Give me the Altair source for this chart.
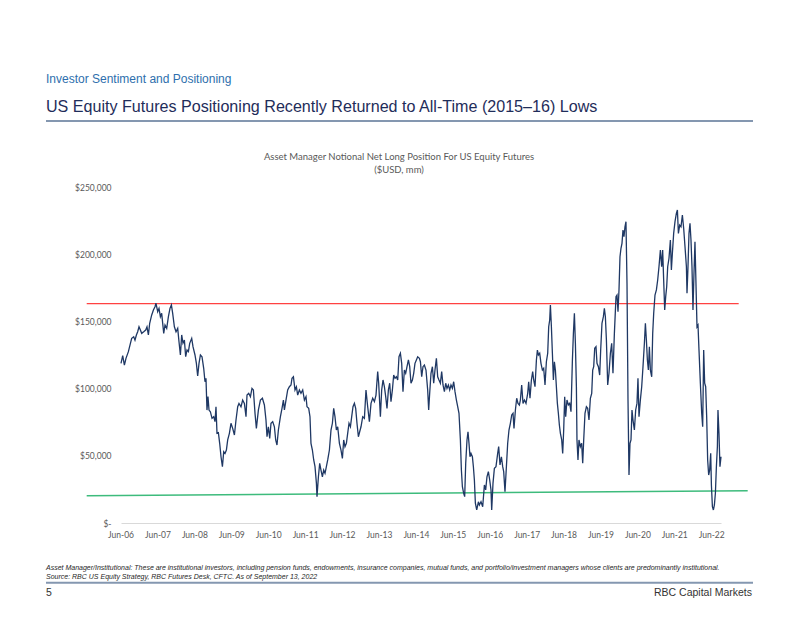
import altair as alt
import numpy as np
import pandas as pd

# ---------------- data ----------------
# decimal years of each traced point, and net long position in $USD thousands of mm
dec_years = [
    2006.446, 2006.492, 2006.538, 2006.581, 2006.646, 2006.701, 2006.736, 2006.790, 2006.825, 2006.863,
    2006.898, 2006.934, 2006.971, 2007.007, 2007.061, 2007.115, 2007.150, 2007.188, 2007.223, 2007.278,
    2007.324, 2007.367, 2007.394, 2007.440, 2007.475, 2007.513, 2007.548, 2007.603, 2007.638, 2007.684,
    2007.730, 2007.773, 2007.811, 2007.846, 2007.892, 2007.936, 2007.982, 2008.017, 2008.055, 2008.090,
    2008.125, 2008.163, 2008.198, 2008.234, 2008.272, 2008.307, 2008.361, 2008.396, 2008.450, 2008.488,
    2008.523, 2008.559, 2008.597, 2008.640, 2008.686, 2008.721, 2008.748, 2008.775, 2008.802, 2008.830,
    2008.867, 2008.911, 2008.957, 2008.992, 2009.019, 2009.046, 2009.084, 2009.119, 2009.155, 2009.193,
    2009.228, 2009.263, 2009.301, 2009.336, 2009.382, 2009.425, 2009.471, 2009.518, 2009.561, 2009.607,
    2009.642, 2009.696, 2009.742, 2009.788, 2009.832, 2009.859, 2009.905, 2009.951, 2009.994, 2010.032,
    2010.076, 2010.113, 2010.168, 2010.222, 2010.276, 2010.330, 2010.373, 2010.401, 2010.438, 2010.474,
    2010.509, 2010.555, 2010.601, 2010.636, 2010.671, 2010.709, 2010.764, 2010.807, 2010.845, 2010.872,
    2010.915, 2010.961, 2011.007, 2011.051, 2011.078, 2011.116, 2011.159, 2011.197, 2011.232, 2011.278,
    2011.321, 2011.368, 2011.414, 2011.457, 2011.484, 2011.530, 2011.565, 2011.592, 2011.630, 2011.666,
    2011.701, 2011.739, 2011.755, 2011.793, 2011.828, 2011.863, 2011.901, 2011.936, 2011.972, 2012.009,
    2012.045, 2012.091, 2012.134, 2012.172, 2012.207, 2012.242, 2012.280, 2012.316, 2012.362, 2012.405,
    2012.443, 2012.478, 2012.513, 2012.551, 2012.586, 2012.622, 2012.660, 2012.695, 2012.730, 2012.768,
    2012.803, 2012.838, 2012.876, 2012.911, 2012.947, 2012.993, 2013.039, 2013.082, 2013.128, 2013.174,
    2013.218, 2013.264, 2013.310, 2013.353, 2013.399, 2013.426, 2013.472, 2013.507, 2013.543, 2013.580,
    2013.616, 2013.651, 2013.689, 2013.724, 2013.759, 2013.797, 2013.832, 2013.868, 2013.905, 2013.941,
    2013.976, 2014.014, 2014.049, 2014.084, 2014.122, 2014.157, 2014.193, 2014.231, 2014.266, 2014.301,
    2014.339, 2014.374, 2014.409, 2014.447, 2014.482, 2014.529, 2014.556, 2014.591, 2014.626, 2014.664,
    2014.707, 2014.753, 2014.780, 2014.807, 2014.843, 2014.881, 2014.916, 2014.951, 2014.989, 2015.024,
    2015.059, 2015.097, 2015.132, 2015.168, 2015.206, 2015.241, 2015.276, 2015.314, 2015.349, 2015.384,
    2015.422, 2015.457, 2015.493, 2015.531, 2015.566, 2015.601, 2015.639, 2015.666, 2015.693, 2015.728,
    2015.755, 2015.783, 2015.818, 2015.845, 2015.872, 2015.899, 2015.926, 2015.964, 2015.991, 2016.018,
    2016.045, 2016.081, 2016.127, 2016.154, 2016.197, 2016.243, 2016.289, 2016.324, 2016.359, 2016.397,
    2016.433, 2016.468, 2016.487, 2016.522, 2016.560, 2016.603, 2016.649, 2016.676, 2016.712, 2016.750,
    2016.785, 2016.812, 2016.847, 2016.885, 2016.920, 2016.955, 2016.993, 2017.029, 2017.064, 2017.091,
    2017.129, 2017.164, 2017.199, 2017.237, 2017.264, 2017.299, 2017.335, 2017.373, 2017.416, 2017.462,
    2017.489, 2017.524, 2017.562, 2017.597, 2017.624, 2017.660, 2017.698, 2017.725, 2017.752, 2017.787,
    2017.822, 2017.860, 2017.895, 2017.931, 2017.968, 2018.004, 2018.031, 2018.058, 2018.077, 2018.104,
    2018.131, 2018.158, 2018.185, 2018.212, 2018.239, 2018.266, 2018.293, 2018.320, 2018.348, 2018.383,
    2018.410, 2018.437, 2018.464, 2018.491, 2018.526, 2018.564, 2018.600, 2018.635, 2018.673, 2018.700,
    2018.727, 2018.754, 2018.781, 2018.797, 2018.824, 2018.851, 2018.889, 2018.924, 2018.952, 2018.979,
    2019.014, 2019.052, 2019.087, 2019.122, 2019.160, 2019.196, 2019.223, 2019.250, 2019.277, 2019.312,
    2019.339, 2019.377, 2019.412, 2019.439, 2019.474, 2019.512, 2019.539, 2019.566, 2019.594, 2019.629,
    2019.664, 2019.702, 2019.737, 2019.772, 2019.810, 2019.854, 2019.881, 2019.908, 2019.935, 2019.962,
    2019.989, 2020.016, 2020.043, 2020.070, 2020.097, 2020.124, 2020.152, 2020.179, 2020.206, 2020.233,
    2020.260, 2020.287, 2020.314, 2020.352, 2020.387, 2020.422, 2020.449, 2020.477, 2020.514, 2020.550,
    2020.585, 2020.623, 2020.650, 2020.677, 2020.704, 2020.731, 2020.758, 2020.785, 2020.821, 2020.848,
    2020.875, 2020.910, 2020.948, 2020.983, 2021.018, 2021.056, 2021.091, 2021.118, 2021.145, 2021.173,
    2021.200, 2021.227, 2021.254, 2021.289, 2021.327, 2021.354, 2021.381, 2021.416, 2021.452, 2021.489,
    2021.517, 2021.544, 2021.579, 2021.614, 2021.652, 2021.687, 2021.723, 2021.761, 2021.777, 2021.804,
    2021.831, 2021.858, 2021.885, 2021.912, 2021.939, 2021.966, 2021.993, 2022.020, 2022.048, 2022.075,
    2022.102, 2022.139, 2022.175, 2022.202, 2022.229, 2022.256, 2022.283, 2022.310, 2022.337, 2022.364,
    2022.391, 2022.419, 2022.438, 2022.465, 2022.492, 2022.519, 2022.546, 2022.573, 2022.600, 2022.616,
    2022.643, 2022.670, 2022.698,
]

values_k = [
    118.8, 124.5, 117.5, 122.5, 127.5, 133.7, 137.4, 138.6, 136.0, 139.9,
    142.3, 146.0, 143.6, 141.1, 142.3, 143.6, 146.0, 139.9, 148.6, 154.8,
    158.5, 160.9, 163.5, 157.2, 159.7, 153.5, 156.0, 141.1, 147.3, 144.8,
    153.5, 159.7, 162.2, 156.0, 146.0, 142.3, 144.8, 134.9, 125.0, 139.9,
    133.7, 136.1, 123.7, 128.7, 127.5, 133.7, 137.4, 131.2, 125.0, 118.8,
    109.4, 118.8, 125.0, 123.7, 115.1, 105.1, 107.6, 84.0, 94.0, 84.0,
    82.8, 77.9, 79.1, 75.4, 86.5, 66.7, 67.2, 59.3, 49.3, 41.9,
    53.0, 51.8, 54.3, 61.8, 66.7, 74.2, 70.4, 65.5, 76.6, 86.5,
    89.0, 86.5, 91.5, 89.0, 79.1, 95.2, 96.5, 94.0, 100.2, 99.0,
    81.6, 70.4, 84.1, 91.5, 92.8, 87.8, 76.6, 64.2, 71.6, 63.0,
    74.2, 75.4, 71.6, 61.8, 58.0, 69.2, 79.1, 85.3, 91.5, 84.1,
    91.5, 99.0, 101.4, 102.7, 107.7, 108.8, 99.0, 101.4, 95.2, 99.0,
    96.5, 99.0, 91.5, 94.0, 86.5, 85.3, 79.1, 59.3, 54.3, 46.9,
    41.9, 29.5, 19.6, 34.4, 44.4, 39.4, 34.4, 39.4, 37.0, 41.9,
    46.9, 54.3, 69.2, 74.2, 85.3, 79.1, 69.2, 71.6, 59.3, 54.3,
    48.1, 61.8, 56.8, 59.3, 66.7, 74.2, 71.6, 79.1, 86.5, 89.0,
    85.3, 74.2, 64.2, 67.9, 71.6, 79.1, 77.9, 99.0, 86.5, 75.4,
    89.0, 92.8, 90.3, 95.2, 112.6, 104.0, 79.1, 99.0, 106.4, 101.4,
    94.0, 85.3, 99.0, 104.0, 90.3, 99.0, 110.1, 107.7, 108.8, 106.4,
    123.7, 126.3, 118.8, 97.7, 113.8, 111.4, 116.3, 121.3, 116.3, 104.0,
    106.4, 111.4, 118.8, 121.3, 123.7, 122.5, 120.0, 108.8, 116.3, 117.5,
    113.8, 99.0, 84.1, 96.5, 111.4, 116.3, 104.0, 113.8, 122.5, 108.8,
    106.4, 104.0, 112.6, 102.7, 97.7, 104.0, 100.2, 102.7, 99.0, 102.7,
    100.2, 105.1, 97.7, 91.5, 86.5, 81.6, 61.8, 39.4, 27.0, 22.1,
    19.6, 44.4, 61.8, 67.9, 59.3, 49.3, 51.8, 49.3, 41.9, 32.0,
    14.7, 9.7, 15.8, 13.4, 15.8, 12.1, 28.3, 24.6, 34.4, 38.2,
    32.0, 24.6, 9.7, 29.5, 40.7, 41.9, 51.8, 56.8, 43.2, 49.3,
    41.9, 38.2, 23.3, 41.9, 59.3, 69.2, 74.2, 80.4, 81.6, 70.4,
    84.1, 92.8, 89.0, 87.8, 91.5, 102.7, 89.0, 91.5, 89.0, 96.5,
    105.1, 92.8, 106.4, 112.6, 106.4, 101.4, 121.3, 128.7, 125.0, 126.3,
    118.8, 113.8, 115.1, 102.7, 120.0, 126.3, 146.0, 151.0, 162.2, 146.0,
    126.3, 106.4, 120.0, 113.8, 101.4, 89.0, 81.6, 72.9, 66.7, 61.8,
    51.8, 69.2, 94.0, 79.1, 91.5, 87.8, 89.0, 82.8, 121.3, 141.1,
    156.0, 133.7, 101.4, 61.8, 46.9, 61.8, 56.8, 59.3, 44.4, 61.8,
    81.6, 86.5, 85.3, 76.6, 92.8, 96.5, 113.8, 116.3, 130.0, 131.2,
    118.8, 116.3, 110.1, 128.7, 148.6, 153.5, 159.7, 153.5, 136.1, 102.7,
    111.4, 126.3, 133.7, 111.4, 141.1, 168.4, 169.6, 157.2, 173.4, 198.1,
    204.4, 208.1, 218.0, 213.0, 220.4, 224.2, 178.3, 91.5, 35.7, 59.3,
    61.8, 84.1, 76.6, 69.2, 84.1, 89.0, 107.7, 79.1, 91.5, 101.4,
    116.3, 133.7, 148.6, 136.1, 121.3, 113.8, 131.2, 113.8, 108.8, 141.1,
    156.0, 169.6, 173.4, 180.8, 190.7, 203.1, 190.7, 203.1, 180.8, 158.5,
    168.4, 175.8, 190.7, 197.0, 210.6, 188.2, 200.7, 215.5, 224.2, 230.4,
    232.9, 215.5, 221.7, 220.4, 229.2, 219.3, 205.6, 190.7, 170.9, 190.7,
    215.5, 223.0, 210.6, 190.7, 158.5, 185.8, 209.3, 178.3, 146.0, 147.3,
    128.7, 104.0, 81.6, 71.6, 128.7, 104.0, 101.4, 79.1, 46.9, 35.7,
    39.4, 51.8, 28.3, 12.1, 9.7, 13.4, 22.1, 41.9, 56.8, 84.1,
    66.7, 41.9, 49.3,
]

# reference lines (all-time high, all-time-low support)
red_years = [2005.517, 2023.177]
red_values_k = [163.3, 163.3]
green_years = [2005.517, 2023.421]
green_values_k = [20.3, 24.0]

# x ticks: mid-June of each year
x_tick_years = [2006.447 + k for k in range(17)]
x_tick_labels = ["Jun-06", "Jun-07", "Jun-08", "Jun-09", "Jun-10", "Jun-11", "Jun-12", "Jun-13", "Jun-14",
                 "Jun-15", "Jun-16", "Jun-17", "Jun-18", "Jun-19", "Jun-20", "Jun-21", "Jun-22"]
y_tick_values = [0, 50000, 100000, 150000, 200000, 250000]
y_tick_labels = ["$-", "$50,000", "$100,000", "$150,000", "$200,000", "$250,000"]

header_text = "Investor Sentiment and Positioning"
title_text = "US Equity Futures Positioning Recently Returned to All-Time (2015\u201316) Lows"
chart_title_1 = "Asset Manager Notional Net Long Position For US Equity Futures"
chart_title_2 = "($USD, mm)"
foot_1 = ("Asset Manager/Institutional: These are institutional investors, including pension funds, endowments, "
          "insurance companies, mutual funds, and portfolio/investment managers whose clients are predominantly institutional.")
foot_2 = "Source: RBC US Equity Strategy, RBC Futures Desk, CFTC. As of September 13, 2022"
page_no = "5"
brand = "RBC Capital Markets"

df = pd.DataFrame({"year": dec_years, "value": np.array(values_k) * 1000})
df_red = pd.DataFrame({"year": red_years, "value": np.array(red_values_k) * 1000})
df_green = pd.DataFrame({"year": green_years, "value": np.array(green_values_k) * 1000})
df_xt = pd.DataFrame({"year": x_tick_years, "label": x_tick_labels})

x_min, x_max = min(dec_years), max(dec_years)

y_label_expr = " : ".join(
    f"datum.value == {v} ? '{l}'" for v, l in zip(y_tick_values, y_tick_labels)
) + " : ''"

LABEL_FONT = "Lato"
GREY = "#595959"

x_enc = alt.X(
    "year:Q",
    scale=alt.Scale(domain=[x_min, x_max], nice=False, zero=False),
    axis=alt.Axis(
        values=x_tick_years, labels=False, title=None, grid=False, ticks=False,
        domainColor="#d9d9d9", domainWidth=1,
    ),
)
y_enc = alt.Y(
    "value:Q",
    scale=alt.Scale(domain=[0, 250000], nice=False, zero=True),
    axis=alt.Axis(
        values=y_tick_values, labelExpr=y_label_expr, title=None, grid=False,
        ticks=False, domain=False, labelFont=LABEL_FONT, labelFontSize=8.5,
        labelColor=GREY, labelPadding=10,
    ),
)

line = alt.Chart(df).mark_line(color="#1f3864", strokeWidth=1.3).encode(x=x_enc, y=y_enc)
red = alt.Chart(df_red).mark_line(color="#ff4242", strokeWidth=1.3).encode(x="year:Q", y="value:Q")
green = alt.Chart(df_green).mark_line(color="#3dbb7c", strokeWidth=1.6).encode(x="year:Q", y="value:Q")
x_labels = alt.Chart(df_xt).mark_text(
    baseline="middle", align="center", font=LABEL_FONT, fontSize=8.5, color=GREY
).encode(x="year:Q", y=alt.value(348), text="label:N")


def text_layer(txt, x, y, size, color, font="Liberation Sans", align="left", style="normal"):
    return alt.Chart(pd.DataFrame({"t": [txt]})).mark_text(
        align=align, baseline="alphabetic", font=font, fontSize=size, color=color, fontStyle=style
    ).encode(x=alt.value(x), y=alt.value(y), text="t:N")


def hrule(x1, x2, y, color, width):
    return alt.Chart(pd.DataFrame({"k": [0]})).mark_rule(color=color, strokeWidth=width).encode(
        x=alt.value(x1), x2=alt.value(x2), y=alt.value(y)
    )


layers = [
    red, green, line, x_labels,
    text_layer(header_text, -75, -104.5, 12, "#2e6fad"),
    text_layer(title_text, -75, -75, 16.1, "#1f2d5a"),
    hrule(-75, 632, -66, "#8497b0", 2),
    text_layer(chart_title_1, 278, -27, 9.5, GREY, font=LABEL_FONT, align="center"),
    text_layer(chart_title_2, 278, -14.5, 9.5, GREY, font=LABEL_FONT, align="center"),
    text_layer(foot_1, -75, 383, 7, "#262626", style="italic"),
    text_layer(foot_2, -75, 391.5, 7, "#262626", style="italic"),
    hrule(-75, 632, 395.7, "#8497b0", 2),
    text_layer(page_no, -75, 408.5, 10.5, "#333333"),
    text_layer(brand, 631, 408.5, 10.5, "#333333", align="right"),
]

chart = alt.layer(*layers).properties(
    width=600,
    height=336,
    padding={"left": 113, "top": 179, "right": 73, "bottom": 89},
    autosize=alt.AutoSizeParams(type="none"),
    background="white",
).configure_view(stroke=None)

chart.save("out.html", embed_options={"renderer": "svg", "actions": False})
